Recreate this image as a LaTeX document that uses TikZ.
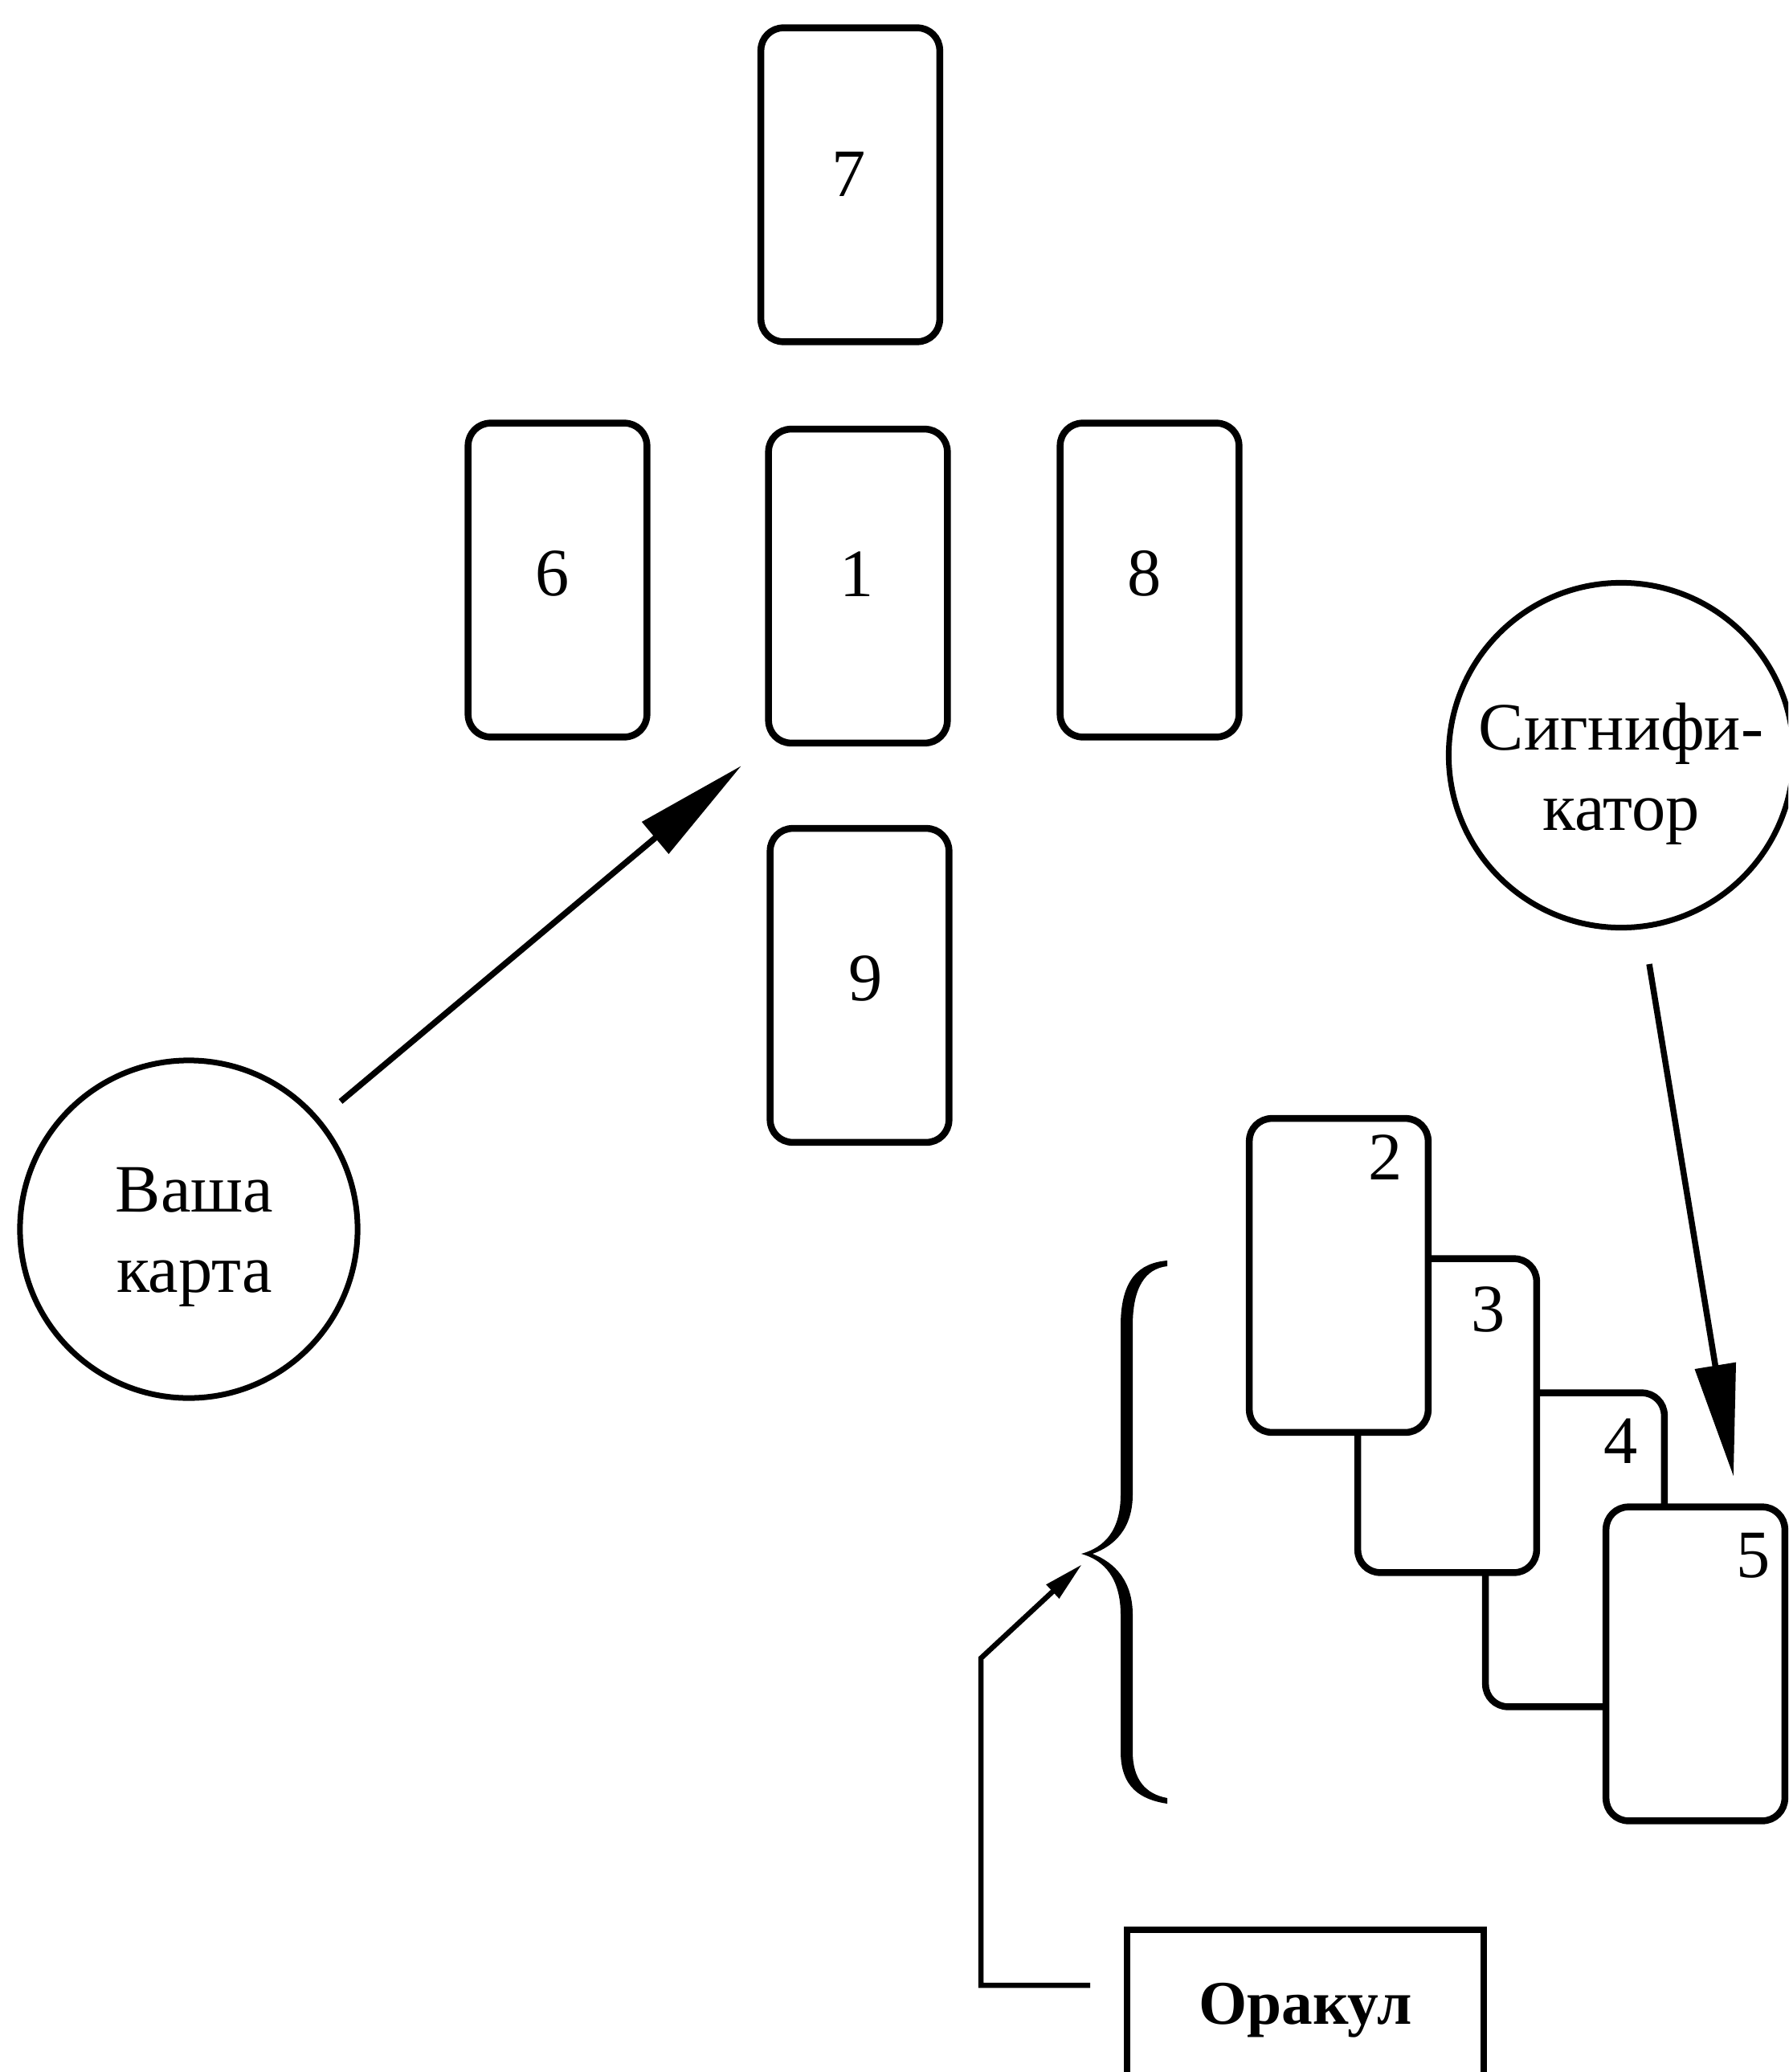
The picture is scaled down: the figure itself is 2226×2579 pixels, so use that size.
\documentclass[tikz,border=0pt]{standalone}
\usepackage{fontspec}
\setmainfont{Liberation Serif}
\usetikzlibrary{arrows.meta}
\begin{document}
\begin{tikzpicture}[x=0.01cm,y=-0.01cm,
  cardbox/.style={draw, line width=0.085cm, rounded corners=0.28cm, minimum width=2.225cm, minimum height=3.905cm, inner sep=0pt, fill=white},
  num/.style={inner sep=0pt, font=\fontsize{24}{28}\selectfont},
  circ/.style={draw, circle, line width=0.07cm, inner sep=0pt},
  ctext/.style={align=center, inner sep=0pt, font=\fontsize{24}{28.45}\selectfont},
  bigarrow/.style={line width=0.075cm, -{Triangle[length=1.4cm,width=0.5cm]}},
  smallarrow/.style={line width=0.065cm, -{Triangle[length=0.5cm,width=0.22cm]}}
]
\useasboundingbox (0,0) rectangle (2226,2579);
\clip (0,0) rectangle (2226,2579);
\fill[white] (0,0) rectangle (2226,2579);

% cross of cards
\node[cardbox] (c7) at (1058.5,230) {};
\node[cardbox] (c6) at (694,722) {};
\node[cardbox] (c1) at (1068,729.5) {};
\node[cardbox] (c8) at (1431,722) {};
\node[cardbox] (c9) at (1070,1226.5) {};
\node[num] (n7) at (1057,217) {7};
\node[num] (n6) at (688,714) {6};
\node[num] (n1) at (1067,715) {1};
\node[num] (n8) at (1425,714) {8};
\node[num] (n9) at (1078,1218) {9};

% staircase of cards
\node[cardbox] (c4) at (1960.5,1929) {};
\node[cardbox] (c3) at (1801.5,1762) {};
\node[cardbox] (c2) at (1666.5,1587.5) {};
\node[cardbox] (c5) at (2110.5,2071) {};
\node[num] (n2) at (1725,1441) {2};
\node[num] (n3) at (1853,1630) {3};
\node[num] (n4) at (2018,1794) {4};
\node[num] (n5) at (2183,1936) {5};

% circles
\node[circ, minimum size=4.2cm] (vasha) at (235,1530) {};
\node[ctext] (vashat) at (242,1540) {Ваша\\карта};
\node[circ, minimum size=4.29cm] (sig) at (2018,940) {};
\node[ctext] (sigt) at (2018,963) {Сигнифи-\\катор};

% oracle box
\node[draw, line width=0.08cm, minimum width=4.43cm, minimum height=2.0cm, inner sep=0pt,
      font=\bfseries\fontsize{22}{26}\selectfont] (oracle) at (1625,2502) {Оракул};

% arrows
\coordinate (va0) at (424,1371);
\coordinate (va1) at (923,953);
\draw[bigarrow] (va0) -- (va1);
\coordinate (sg0) at (2053,1200);
\coordinate (sg1) at (2158,1838);
\draw[bigarrow] (sg0) -- (sg1);

% brace
\fill (1453,1569) .. controls (1418,1572) and (1395,1592) .. (1395,1650)
  -- (1395,1860) .. controls (1395,1905) and (1375,1926) .. (1346,1934)
  .. controls (1375,1942) and (1395,1965) .. (1395,2010)
  -- (1395,2180) .. controls (1395,2225) and (1420,2240) .. (1453,2245)
  -- (1453,2238) .. controls (1426,2233) and (1410,2215) .. (1410,2180)
  -- (1410,2010) .. controls (1410,1968) and (1388,1945) .. (1360,1934)
  .. controls (1388,1924) and (1410,1902) .. (1410,1860)
  -- (1410,1650) .. controls (1410,1602) and (1426,1579) .. (1453,1576) -- cycle;

% oracle connector
\coordinate (or0) at (1357,2471);
\coordinate (orc1) at (1221,2471);
\coordinate (orc2) at (1221,2064);
\coordinate (or1) at (1347,1947);
\draw[smallarrow] (or0) -- (orc1) -- (orc2) -- (or1);
\end{tikzpicture}
\end{document}
